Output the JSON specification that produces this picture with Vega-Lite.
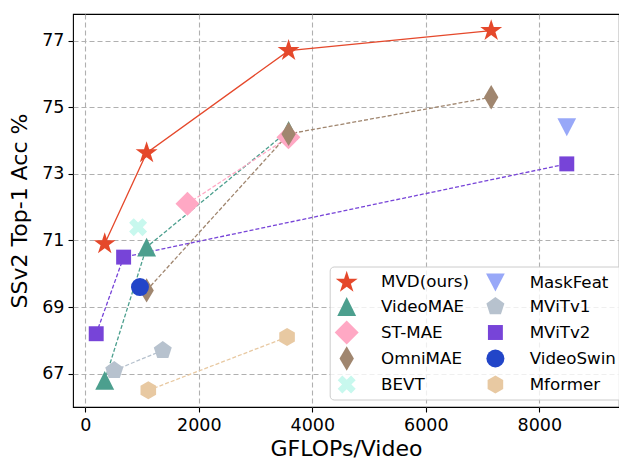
{
  "$schema": "https://vega.github.io/schema/vega-lite/v6.json",
  "width": 546,
  "height": 393,
  "autosize": "none",
  "padding": {"left": 73, "top": 14, "right": 0, "bottom": 55},
  "background": "white",
  "config": {
    "view": {"stroke": "#000", "strokeWidth": 1.1},
    "font": "DejaVu Sans",
    "axis": {
      "labelFont": "DejaVu Sans", "labelFontSize": 17.5, "labelColor": "#000",
      "titleFont": "DejaVu Sans", "titleFontSize": 22, "titleFontWeight": "normal", "titleColor": "#000",
      "tickColor": "#000", "tickSize": 5, "tickWidth": 1.1, "domain": false,
      "grid": true, "gridColor": "#b0b0b0", "gridDash": [5, 3], "gridWidth": 1.1
    },
    "legend": {
      "orient": "none", "legendX": 256.7, "legendY": 252.5, "columns": 2,
      "labelFont": "DejaVu Sans", "labelFontSize": 16.7, "labelColor": "#000",
      "symbolSize": 324, "symbolStrokeWidth": 0, "symbolOpacity": 1,
      "fillColor": "rgba(255,255,255,0.8)", "strokeColor": "#cccccc", "cornerRadius": 4,
      "padding": 5, "rowPadding": 0, "columnPadding": 13.7, "labelOffset": 25.3, "symbolOffset": 3, "gridAlign": "all"
    }
  },
  "data": {
    "values": [
      {"m": "MVD(ours)", "x": 342, "y": 70.9},
      {"m": "MVD(ours)", "x": 1080, "y": 73.63},
      {"m": "MVD(ours)", "x": 3582, "y": 76.7},
      {"m": "MVD(ours)", "x": 7152, "y": 77.3},
      {"m": "VideoMAE", "x": 342, "y": 66.8},
      {"m": "VideoMAE", "x": 1080, "y": 70.8},
      {"m": "VideoMAE", "x": 3582, "y": 74.3},
      {"m": "ST-MAE", "x": 1800, "y": 72.1},
      {"m": "ST-MAE", "x": 3579, "y": 74.1},
      {"m": "OmniMAE", "x": 1080, "y": 69.5},
      {"m": "OmniMAE", "x": 3582, "y": 74.2},
      {"m": "OmniMAE", "x": 7152, "y": 75.3},
      {"m": "BEVT", "x": 930, "y": 71.4},
      {"m": "MaskFeat", "x": 8484, "y": 74.4},
      {"m": "MViTv1", "x": 510, "y": 67.1},
      {"m": "MViTv1", "x": 1365, "y": 67.7},
      {"m": "MViTv2", "x": 192, "y": 68.2},
      {"m": "MViTv2", "x": 675, "y": 70.5},
      {"m": "MViTv2", "x": 8484, "y": 73.3},
      {"m": "VideoSwin", "x": 963, "y": 69.6},
      {"m": "Mformer", "x": 1110, "y": 66.5},
      {"m": "Mformer", "x": 3555, "y": 68.1}
    ]
  },
  "encoding": {
    "x": {
      "field": "x", "type": "quantitative",
      "scale": {"domain": [-217, 9404], "nice": false, "zero": false},
      "axis": {"values": [0, 2000, 4000, 6000, 8000], "format": "d", "title": "GFLOPs/Video", "labelPadding": 4, "titlePadding": 5}
    },
    "y": {
      "field": "y", "type": "quantitative",
      "scale": {"domain": [66.0, 77.8], "nice": false, "zero": false},
      "axis": {"values": [67, 69, 71, 73, 75, 77], "title": "SSv2 Top-1 Acc %", "labelPadding": 4, "titlePadding": 10}
    }
  },
  "layer": [
    {
      "transform": [{"filter": "datum.m === 'MVD(ours)'"}],
      "mark": {"type": "line", "strokeWidth": 1.3},
      "encoding": {
        "stroke": {
          "field": "m", "type": "nominal", "legend": null,
          "scale": {
            "domain": ["Mformer", "VideoSwin", "MViTv2", "MViTv1", "MaskFeat", "BEVT", "OmniMAE", "ST-MAE", "VideoMAE", "MVD(ours)"],
            "range": ["#E8C9A2", "#2245C8", "#7744D8", "#B7C2CE", "#98A8F8", "#C8F8EE", "#A0866F", "#FFA8C4", "#4C9F8E", "#E5482B"]
          }
        }
      }
    },
    {
      "transform": [{"filter": "datum.m !== 'MVD(ours)'"}],
      "mark": {"type": "line", "strokeWidth": 1.3, "strokeDash": [4, 2]},
      "encoding": {
        "stroke": {
          "field": "m", "type": "nominal", "legend": null,
          "scale": {
            "domain": ["Mformer", "VideoSwin", "MViTv2", "MViTv1", "MaskFeat", "BEVT", "OmniMAE", "ST-MAE", "VideoMAE", "MVD(ours)"],
            "range": ["#E8C9A2", "#2245C8", "#7744D8", "#B7C2CE", "#98A8F8", "#C8F8EE", "#A0866F", "#FFA8C4", "#4C9F8E", "#E5482B"]
          }
        }
      }
    },
    {
      "mark": {"type": "point", "filled": true, "opacity": 1, "size": 324, "strokeWidth": 0},
      "encoding": {
        "color": {
          "field": "m", "type": "nominal", "title": null,
          "scale": {
            "domain": ["MVD(ours)", "VideoMAE", "ST-MAE", "OmniMAE", "BEVT", "MaskFeat", "MViTv1", "MViTv2", "VideoSwin", "Mformer"],
            "range": ["#E5482B", "#4C9F8E", "#FFA8C4", "#A0866F", "#C8F8EE", "#98A8F8", "#B7C2CE", "#7744D8", "#2245C8", "#E8C9A2"]
          }
        },
        "shape": {
          "field": "m", "type": "nominal", "title": null,
          "scale": {
            "domain": ["MVD(ours)", "VideoMAE", "ST-MAE", "OmniMAE", "BEVT", "MaskFeat", "MViTv1", "MViTv2", "VideoSwin", "Mformer"],
            "range": [
              "M0,-1.28L0.287,-0.396L1.217,-0.396L0.465,0.151L0.752,1.036L0,0.489L-0.752,1.036L-0.465,0.151L-1.217,-0.396L-0.287,-0.396Z",
              "M0,-1.05L1.05,1.05L-1.05,1.05Z",
              "M0,-1.33L1.33,0L0,1.33L-1.33,0Z",
              "M0,-1.35L0.8,0L0,1.35L-0.8,0Z",
              "M0.483,-1.002L1.002,-0.483L0.52,0L1.002,0.483L0.483,1.002L0,0.52L-0.483,1.002L-1.002,0.483L-0.52,0L-1.002,-0.483L-0.483,-1.002L0,-0.52Z",
              "M-1.04,-1L1.04,-1L0,1Z",
              "M0,-1.05L0.999,-0.324L0.617,0.849L-0.617,0.849L-0.999,-0.324Z",
              "M-0.83,-0.83L0.83,-0.83L0.83,0.83L-0.83,0.83Z",
              "circle",
              "M0,-1L0.866,-0.5L0.866,0.5L0,1L-0.866,0.5L-0.866,-0.5Z"
            ]
          }
        }
      }
    }
  ]
}
